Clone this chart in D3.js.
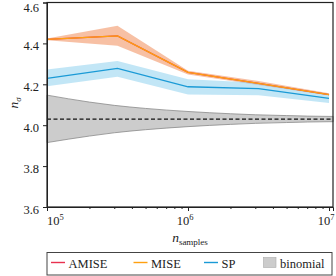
<!DOCTYPE html>
<html lang="en">
<head>
    <meta charset="UTF-8">
    <title>n_sigma vs n_samples</title>
    <script src="https://d3js.org/d3.v7.min.js"></script>
    <style>
        body { margin: 0; background: #fff; }
        text { font-family: "Liberation Serif", "DejaVu Serif", serif; fill: #222; }
        .axis path, .axis line { stroke: #222; }
    </style>
</head>
<body>
    <svg width="336" height="276"></svg>
    <script>
        // Sample sizes of the estimator runs
        const nSamples = [1e5, 3.16e5, 1e6, 3.16e6, 1e7];

        // Series (means and band limits)
        const amise = [4.42, 4.437, 4.258, 4.204, 4.15];
        const mise = [4.42, 4.437, 4.258, 4.204, 4.15];
        const miseLo = [4.416, 4.388, 4.248, 4.196, 4.145];
        const miseHi = [4.424, 4.486, 4.266, 4.216, 4.156];
        const sp = [4.229, 4.278, 4.188, 4.179, 4.131];
        const spLo = [4.19, 4.237, 4.15, 4.147, 4.108];
        const spHi = [4.272, 4.314, 4.225, 4.207, 4.152];

        // Binomial reference band
        const binN = [1e5, 2e5, 3e5, 5e5, 1e6, 2e6, 3e6, 5e6, 1e7, 1.07e7];
        const binLo = [3.915, 3.947, 3.963, 3.978, 3.993, 4.004, 4.009, 4.013, 4.017, 4.017];
        const binHi = [4.147, 4.113, 4.097, 4.082, 4.067, 4.056, 4.051, 4.047, 4.043, 4.043];
        const binTrue = 4.03;

        const yTicks = [3.6, 3.8, 4.0, 4.2, 4.4, 4.6];
        const xTicks = [1e5, 1e6, 1e7];

        const svg = d3.select("svg");
        const margin = {top: 2.5, right: 3, bottom: 69, left: 47};
        const W = 336, H = 276;

        const x = d3.scaleLog().domain([1e5, 1.067e7]).range([margin.left, W - margin.right]);
        const y = d3.scaleLinear().domain([3.6, 4.6]).range([H - margin.bottom, margin.top]);

        const plot = svg.append("g");

        // binomial band
        const binData = binN.map((n, i) => ({n, lo: binLo[i], hi: binHi[i]}));
        plot.append("path")
            .datum(binData)
            .attr("fill", "#cccccc")
            .attr("stroke", "#8a8a8a")
            .attr("stroke-width", 0.8)
            .attr("d", d3.area().x(d => x(d.n)).y0(d => y(d.lo)).y1(d => y(d.hi)).curve(d3.curveMonotoneX));

        plot.append("line")
            .attr("x1", x(1e5)).attr("x2", x(1.067e7))
            .attr("y1", y(binTrue)).attr("y2", y(binTrue))
            .attr("stroke", "#111").attr("stroke-width", 1.2)
            .attr("stroke-dasharray", "4,2.5");

        // bands
        function band(lo, hi, color) {
            const d = nSamples.map((n, i) => ({n, lo: lo[i], hi: hi[i]}));
            plot.append("path")
                .datum(d)
                .attr("fill", color)
                .attr("d", d3.area().x(v => x(v.n)).y0(v => y(v.lo)).y1(v => y(v.hi)));
        }
        band(miseLo, miseHi, "rgba(240,140,90,0.55)");
        band(spLo, spHi, "rgba(120,200,235,0.45)");

        const line = d3.line().x((v, i) => x(nSamples[i])).y(v => y(v));
        function series(vals, color) {
            plot.append("path")
                .datum(vals)
                .attr("fill", "none")
                .attr("stroke", color)
                .attr("stroke-width", 1.3)
                .attr("d", line);
        }
        series(amise, "#e8314f");
        series(mise, "#ffa010");
        series(sp, "#1a9ad6");

        // axes
        const yAxis = svg.append("g").attr("class", "axis")
            .attr("transform", `translate(${margin.left},0)`)
            .call(d3.axisLeft(y).tickValues(yTicks).tickFormat(d3.format(".1f")).tickSize(4).tickPadding(4));
        yAxis.selectAll("text")
            .attr("font-size", 12.5)
            .attr("dy", d => d === 4.6 ? "0.75em" : "0.52em")
            .style("font-family", "Liberation Serif");

        const minor = [];
        [1e5, 1e6].forEach(b => { for (let k = 2; k <= 9; k++) minor.push(b * k); });
        svg.append("g").attr("class", "axis")
            .attr("transform", `translate(0,${H - margin.bottom})`)
            .call(d3.axisBottom(x).tickValues(minor).tickFormat("").tickSize(2))
            .select(".domain").remove();

        svg.append("g").attr("class", "axis")
            .attr("transform", `translate(0,${H - margin.bottom})`)
            .call(d3.axisBottom(x).tickValues(xTicks).tickFormat("").tickSize(4));
        xTicks.forEach((t, i) => {
            const lab = svg.append("text")
                .attr("x", i === 0 ? x(t) : x(t) - 3).attr("y", 225)
                .attr("text-anchor", i === 0 ? "start" : "middle")
                .attr("font-size", 12.5)
                .text("10");
            lab.append("tspan").attr("dy", -5).attr("font-size", 8.5).text(Math.round(Math.log10(t)));
        });

        // frame
        svg.append("rect")
            .attr("x", margin.left).attr("y", margin.top)
            .attr("width", W - margin.right - margin.left)
            .attr("height", H - margin.bottom - margin.top)
            .attr("fill", "none").attr("stroke", "#222").attr("stroke-width", 1.2);

        // axis labels
        const xl = svg.append("text")
            .attr("x", 190).attr("y", 242)
            .attr("text-anchor", "middle").attr("font-size", 13.5);
        xl.append("tspan").attr("font-style", "italic").text("n");
        xl.append("tspan").attr("dy", 3).attr("font-size", 9).text("samples");

        const yl = svg.append("text")
            .attr("transform", `translate(18,103) rotate(-90)`)
            .attr("text-anchor", "middle").attr("font-size", 13.5);
        yl.append("tspan").attr("font-style", "italic").text("n");
        yl.append("tspan").attr("dy", 3).attr("font-size", 9).attr("font-style", "italic").text("σ");

        // legend
        const lg = svg.append("g");
        lg.append("rect")
            .attr("x", 47).attr("y", 252.5).attr("width", 285).attr("height", 22.5)
            .attr("fill", "#fff").attr("stroke", "#444").attr("stroke-width", 1);
        const items = [
            {name: "AMISE", color: "#e8314f", x0: 51},
            {name: "MISE", color: "#ffa010", x0: 133.5},
            {name: "SP", color: "#1a9ad6", x0: 204}
        ];
        items.forEach(it => {
            lg.append("line")
                .attr("x1", it.x0).attr("x2", it.x0 + 14)
                .attr("y1", 262.5).attr("y2", 262.5)
                .attr("stroke", it.color).attr("stroke-width", 1.4);
            lg.append("text")
                .attr("x", it.x0 + 17.5).attr("y", 267.5)
                .attr("font-size", 12.5).text(it.name);
        });
        lg.append("rect")
            .attr("x", 263.5).attr("y", 257.5).attr("width", 12.5).attr("height", 10)
            .attr("fill", "#cccccc").attr("stroke", "#aaa").attr("stroke-width", 0.6);
        lg.append("text")
            .attr("x", 280).attr("y", 267.5)
            .attr("font-size", 12.5).text("binomial");
    </script>
</body>
</html>
